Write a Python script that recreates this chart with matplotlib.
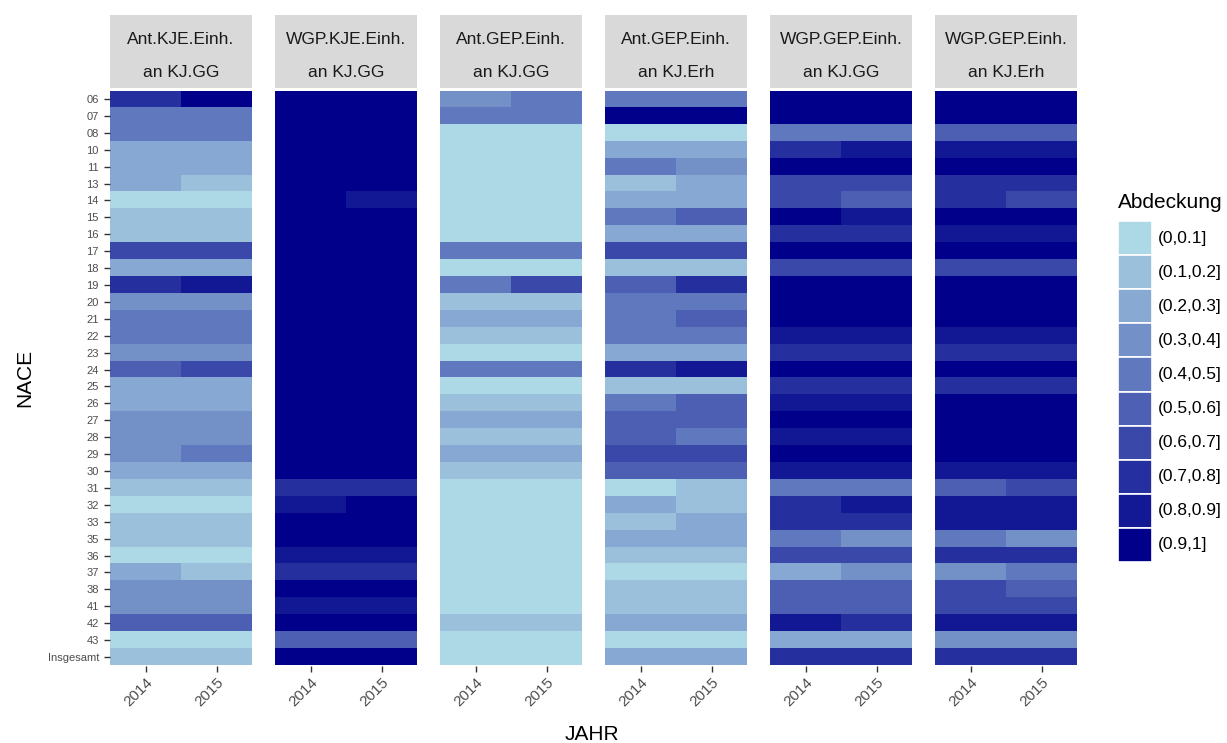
import matplotlib.pyplot as plt
import numpy as np
from matplotlib.colors import LinearSegmentedColormap, ListedColormap

plt.rcParams['font.family'] = ['Liberation Sans', 'DejaVu Sans']

nace = ['06', '07', '08', '10', '11', '13', '14', '15', '16', '17', '18', '19',
        '20', '21', '22', '23', '24', '25', '26', '27', '28', '29', '30', '31',
        '32', '33', '35', '36', '37', '38', '41', '42', '43', 'Insgesamt']
years = ['2014', '2015']
classes = ['(0,0.1]', '(0.1,0.2]', '(0.2,0.3]', '(0.3,0.4]', '(0.4,0.5]',
           '(0.5,0.6]', '(0.6,0.7]', '(0.7,0.8]', '(0.8,0.9]', '(0.9,1]']
facet_titles = [('Ant.KJE.Einh.', 'an KJ.GG'), ('WGP.KJE.Einh.', 'an KJ.GG'),
                ('Ant.GEP.Einh.', 'an KJ.GG'), ('Ant.GEP.Einh.', 'an KJ.Erh'),
                ('WGP.GEP.Einh.', 'an KJ.GG'), ('WGP.GEP.Einh.', 'an KJ.Erh')]

# class number (1 = (0,0.1] ... 10 = (0.9,1]) per NACE row
ant_kje_gg_2014 = [8, 5, 5, 3, 3, 3, 1, 2, 2, 7, 3, 8, 4, 5, 5, 4, 6, 3, 3, 4,
                   4, 4, 3, 2, 1, 2, 2, 1, 3, 4, 4, 6, 1, 2]
ant_kje_gg_2015 = [10, 5, 5, 3, 3, 2, 1, 2, 2, 7, 3, 9, 4, 5, 5, 4, 7, 3, 3, 4,
                   4, 5, 3, 2, 1, 2, 2, 1, 2, 4, 4, 6, 1, 2]
wgp_kje_gg_2014 = [10, 10, 10, 10, 10, 10, 10, 10, 10, 10, 10, 10, 10, 10, 10, 10, 10,
                   10, 10, 10, 10, 10, 10, 8, 9, 10, 10, 9, 8, 10, 9, 10, 6, 10]
wgp_kje_gg_2015 = [10, 10, 10, 10, 10, 10, 9, 10, 10, 10, 10, 10, 10, 10, 10, 10, 10,
                   10, 10, 10, 10, 10, 10, 8, 10, 10, 10, 9, 8, 10, 9, 10, 6, 10]
ant_gep_gg_2014 = [4, 5, 1, 1, 1, 1, 1, 1, 1, 5, 1, 5, 2, 3, 2, 1, 5, 1, 2, 3,
                   2, 3, 2, 1, 1, 1, 1, 1, 1, 1, 1, 2, 1, 1]
ant_gep_gg_2015 = [5, 5, 1, 1, 1, 1, 1, 1, 1, 5, 1, 7, 2, 3, 2, 1, 5, 1, 2, 3,
                   2, 3, 2, 1, 1, 1, 1, 1, 1, 1, 1, 2, 1, 1]
ant_gep_erh_2014 = [5, 10, 1, 3, 5, 2, 3, 5, 3, 7, 2, 6, 5, 5, 5, 3, 8, 2, 5, 6,
                    6, 7, 6, 1, 3, 2, 3, 2, 1, 2, 2, 3, 1, 3]
ant_gep_erh_2015 = [5, 10, 1, 3, 4, 3, 3, 6, 3, 7, 2, 8, 5, 6, 5, 3, 9, 2, 6, 6,
                    5, 7, 6, 2, 2, 3, 3, 2, 1, 2, 2, 3, 1, 3]
wgp_gep_gg_2014 = [10, 10, 5, 8, 10, 7, 7, 10, 8, 10, 7, 10, 10, 10, 9, 8, 10, 8, 9, 10,
                   9, 10, 9, 5, 8, 8, 5, 7, 3, 6, 6, 9, 3, 8]
wgp_gep_gg_2015 = [10, 10, 5, 9, 10, 7, 6, 9, 8, 10, 7, 10, 10, 10, 9, 8, 10, 8, 9, 10,
                   9, 10, 9, 5, 9, 8, 4, 7, 4, 6, 6, 8, 3, 8]
wgp_gep_erh_2014 = [10, 10, 6, 9, 10, 8, 8, 10, 9, 10, 7, 10, 10, 10, 9, 8, 10, 8, 10, 10,
                    10, 10, 9, 6, 9, 9, 5, 8, 4, 7, 7, 9, 4, 8]
wgp_gep_erh_2015 = [10, 10, 6, 9, 10, 8, 7, 10, 9, 10, 7, 10, 10, 10, 9, 8, 10, 8, 10, 10,
                    10, 10, 9, 7, 9, 9, 4, 8, 5, 6, 7, 9, 4, 8]

facet_values = [(ant_kje_gg_2014, ant_kje_gg_2015), (wgp_kje_gg_2014, wgp_kje_gg_2015),
                (ant_gep_gg_2014, ant_gep_gg_2015), (ant_gep_erh_2014, ant_gep_erh_2015),
                (wgp_gep_gg_2014, wgp_gep_gg_2015), (wgp_gep_erh_2014, wgp_gep_erh_2015)]

ramp = LinearSegmentedColormap.from_list('ramp', ['lightblue', 'darkblue'])
colours = [ramp(i / 9) for i in range(10)]
cmap = ListedColormap(colours)

W, H = 1227, 743
fig = plt.figure(figsize=(W / 100, H / 100), dpi=100)


def box(x0, y0, x1, y1):
    # pixel box (origin top left) -> figure fraction rect
    return [x0 / W, 1 - y1 / H, (x1 - x0) / W, (y1 - y0) / H]


tick_col = '#4D4D4D'
lefts = [110, 275, 440, 605, 770, 935]
pw = 142
for k, (left, title, vals) in enumerate(zip(lefts, facet_titles, facet_values)):
    ax = fig.add_axes(box(left, 90.5, left + pw, 665.5))
    z = np.array(vals).T
    ax.imshow(z, cmap=cmap, vmin=0.5, vmax=10.5, aspect='auto', interpolation='nearest')
    for s in ax.spines.values():
        s.set_visible(False)
    ax.set_xticks(range(len(years)))
    ax.set_xticklabels(years, rotation=45, ha='right', va='top', rotation_mode='anchor',
                       fontsize=11, color=tick_col)
    ax.tick_params(axis='x', length=4, width=1, color='#333333', pad=3)
    if k == 0:
        ax.set_yticks(range(len(nace)))
        ax.set_yticklabels(nace, fontsize=8, color=tick_col)
        ax.tick_params(axis='y', length=4.5, width=1, color='#333333', pad=3.5)
    else:
        ax.set_yticks([])

    sx = fig.add_axes(box(left, 15, left + pw, 88))
    sx.set_facecolor('#D9D9D9')
    sx.set_xticks([])
    sx.set_yticks([])
    for s in sx.spines.values():
        s.set_visible(False)
    sx.text(0.5, 0.66, title[0], ha='center', va='center', fontsize=12.5, color='#1A1A1A',
            transform=sx.transAxes)
    sx.text(0.5, 0.21, title[1], ha='center', va='center', fontsize=12.5, color='#1A1A1A',
            transform=sx.transAxes)

fig.text(25 / W, 1 - 378 / H, 'NACE', rotation=90, ha='center', va='center', fontsize=15)
fig.text(592 / W, 1 - 735 / H, 'JAHR', ha='center', va='center', fontsize=15)

# legend
lg = fig.add_axes(box(1118, 221, 1152, 562))
lg.barh(range(len(classes)), [1] * len(classes), height=1, left=0, color=colours,
        edgecolor='white', linewidth=1.2)
lg.set_xlim(0, 1)
lg.set_ylim(len(classes) - 0.5, -0.5)
lg.set_xticks([])
lg.set_yticks([])
for s in lg.spines.values():
    s.set_visible(False)
for i, c in enumerate(classes):
    lg.text(1.18, i, c, ha='left', va='center', fontsize=12.5, color='black',
            transform=lg.get_yaxis_transform())
fig.text(1118 / W, 1 - 203 / H, 'Abdeckung', ha='left', va='center', fontsize=15)

fig.savefig('out.png', dpi=100)
